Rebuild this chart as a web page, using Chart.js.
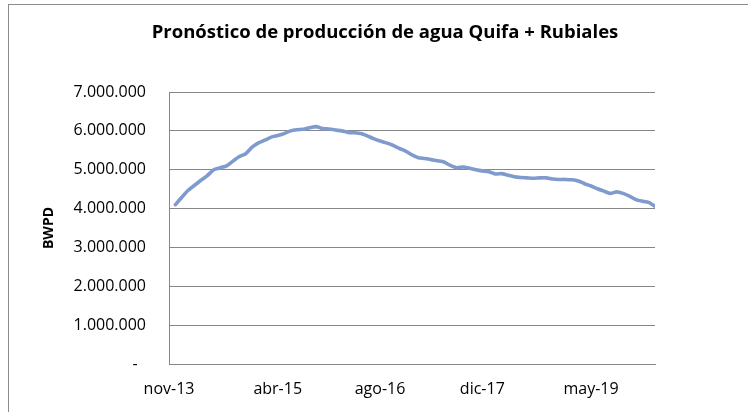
<!DOCTYPE html>
<html>
<head>
<meta charset="utf-8">
<script src="https://cdn.jsdelivr.net/npm/chart.js@4/dist/chart.umd.min.js"></script>
<style>
  html, body { margin: 0; padding: 0; background: #ffffff; overflow: hidden; }
  #wrap { position: absolute; left: 0; top: 0; width: 748px; height: 412px; }
  #frame { position: absolute; left: 8px; top: 4px; width: 800px; height: 500px;
           border-left: 1px solid #8c8c8c; border-top: 1px solid #8c8c8c; box-sizing: border-box; }
  #c { position: absolute; left: 0; top: 0; }
</style>
</head>
<body>
<div id="wrap"><div id="frame"></div><canvas id="c" width="748" height="412"></canvas></div>
<script>
const chartTitle = 'Pronóstico de producción de agua Quifa + Rubiales';
const yAxisTitle = 'BWPD';

// Monthly forecast (dic-13 .. mar-20)
const months = [
  'dic-13',
  'ene-14','feb-14','mar-14','abr-14','may-14','jun-14','jul-14','ago-14','sep-14','oct-14','nov-14','dic-14',
  'ene-15','feb-15','mar-15','abr-15','may-15','jun-15','jul-15','ago-15','sep-15','oct-15','nov-15','dic-15',
  'ene-16','feb-16','mar-16','abr-16','may-16','jun-16','jul-16','ago-16','sep-16','oct-16','nov-16','dic-16',
  'ene-17','feb-17','mar-17','abr-17','may-17','jun-17','jul-17','ago-17','sep-17','oct-17','nov-17','dic-17',
  'ene-18','feb-18','mar-18','abr-18','may-18','jun-18','jul-18','ago-18','sep-18','oct-18','nov-18','dic-18',
  'ene-19','feb-19','mar-19','abr-19','may-19','jun-19','jul-19','ago-19','sep-19','oct-19','nov-19','dic-19',
  'ene-20','feb-20','mar-20'
];

const waterBWPD = [
  4100000,
  4290000,4470000,4600000,4730000,4850000,5000000,5050000,5100000,5220000,5340000,5410000,5580000,
  5690000,5760000,5840000,5880000,5930000,6000000,6030000,6040000,6080000,6110000,6060000,6050000,
  6020000,6000000,5960000,5950000,5930000,5870000,5800000,5740000,5690000,5630000,5550000,5480000,
  5380000,5310000,5290000,5260000,5230000,5200000,5110000,5050000,5070000,5040000,5000000,4970000,
  4950000,4890000,4900000,4860000,4820000,4800000,4790000,4780000,4790000,4790000,4760000,4750000,
  4750000,4740000,4710000,4640000,4580000,4510000,4450000,4390000,4430000,4390000,4320000,4230000,
  4190000,4160000,4060000
];

const xTickLabels = ['nov-13', 'abr-15', 'ago-16', 'dic-17', 'may-19'];
const yTickValues = [0, 1000000, 2000000, 3000000, 4000000, 5000000, 6000000, 7000000];

const monthNames = ['ene','feb','mar','abr','may','jun','jul','ago','sep','oct','nov','dic'];
function absMonth(label) {
  const [m, y] = label.split('-');
  return (2000 + parseInt(y, 10)) * 12 + monthNames.indexOf(m);
}
const origin = absMonth(xTickLabels[0]);
const monthNum = label => absMonth(label) - origin;

const points = months.map((m, i) => ({ x: monthNum(m), y: waterBWPD[i] }));

const fmt = v => v === 0 ? '-  ' : String(v).replace(/\B(?=(\d{3})+(?!\d))/g, '.');

const FONT = '"Open Sans", "Noto Sans", sans-serif';
const GRID = '#878787';

new Chart(document.getElementById('c'), {
  type: 'line',
  data: {
    datasets: [{
      data: points,
      borderColor: '#7F9ACD',
      borderWidth: 3.6,
      pointRadius: 0,
      tension: 0.2,
      fill: false,
      borderCapStyle: 'round',
      borderJoinStyle: 'round'
    }]
  },
  options: {
    responsive: false,
    animation: false,
    devicePixelRatio: 1,
    layout: { padding: { left: 22, right: 0, top: 0, bottom: 0 } },
    plugins: {
      legend: { display: false },
      tooltip: { enabled: false },
      title: {
        display: true,
        text: chartTitle,
        color: '#000000',
        font: { family: FONT, size: 18.5, weight: 'bold', lineHeight: 1.2 },
        padding: { top: 21.9, bottom: 47.9 }
      }
    },
    scales: {
      x: {
        type: 'linear',
        min: 0,
        max: monthNum('mar-20'),
        grid: { display: false, drawTicks: false },
        border: { display: true, color: GRID, width: 1 },
        afterBuildTicks: scale => { scale.ticks = xTickLabels.map(l => ({ value: monthNum(l) })); },
        afterFit: scale => { scale.height = 48; },
        ticks: {
          autoSkip: false,
          maxRotation: 0,
          padding: 16,
          color: '#000000',
          font: { family: FONT, size: 16 },
          callback: (v, i) => xTickLabels[i]
        }
      },
      y: {
        position: 'left',
        min: 0,
        max: 7000000,
        afterBuildTicks: scale => { scale.ticks = yTickValues.map(v => ({ value: v })); },
        afterFit: scale => { scale.width = 147; },
        grid: { color: GRID, lineWidth: 1, drawTicks: false },
        border: { display: true, color: GRID, width: 1 },
        ticks: {
          padding: 23,
          color: '#000000',
          font: { family: FONT, size: 16 },
          callback: v => fmt(v)
        },
        title: {
          display: true,
          text: yAxisTitle,
          color: '#000000',
          font: { family: FONT, size: 14, weight: 'bold', lineHeight: 1.2 },
          padding: { top: 18.6, bottom: 0 }
        }
      },
      yRight: {
        position: 'right',
        display: true,
        grid: { display: false, drawTicks: false },
        border: { display: false },
        ticks: { display: false },
        afterFit: scale => { scale.width = 93; }
      }
    }
  }
});
</script>
</body>
</html>
